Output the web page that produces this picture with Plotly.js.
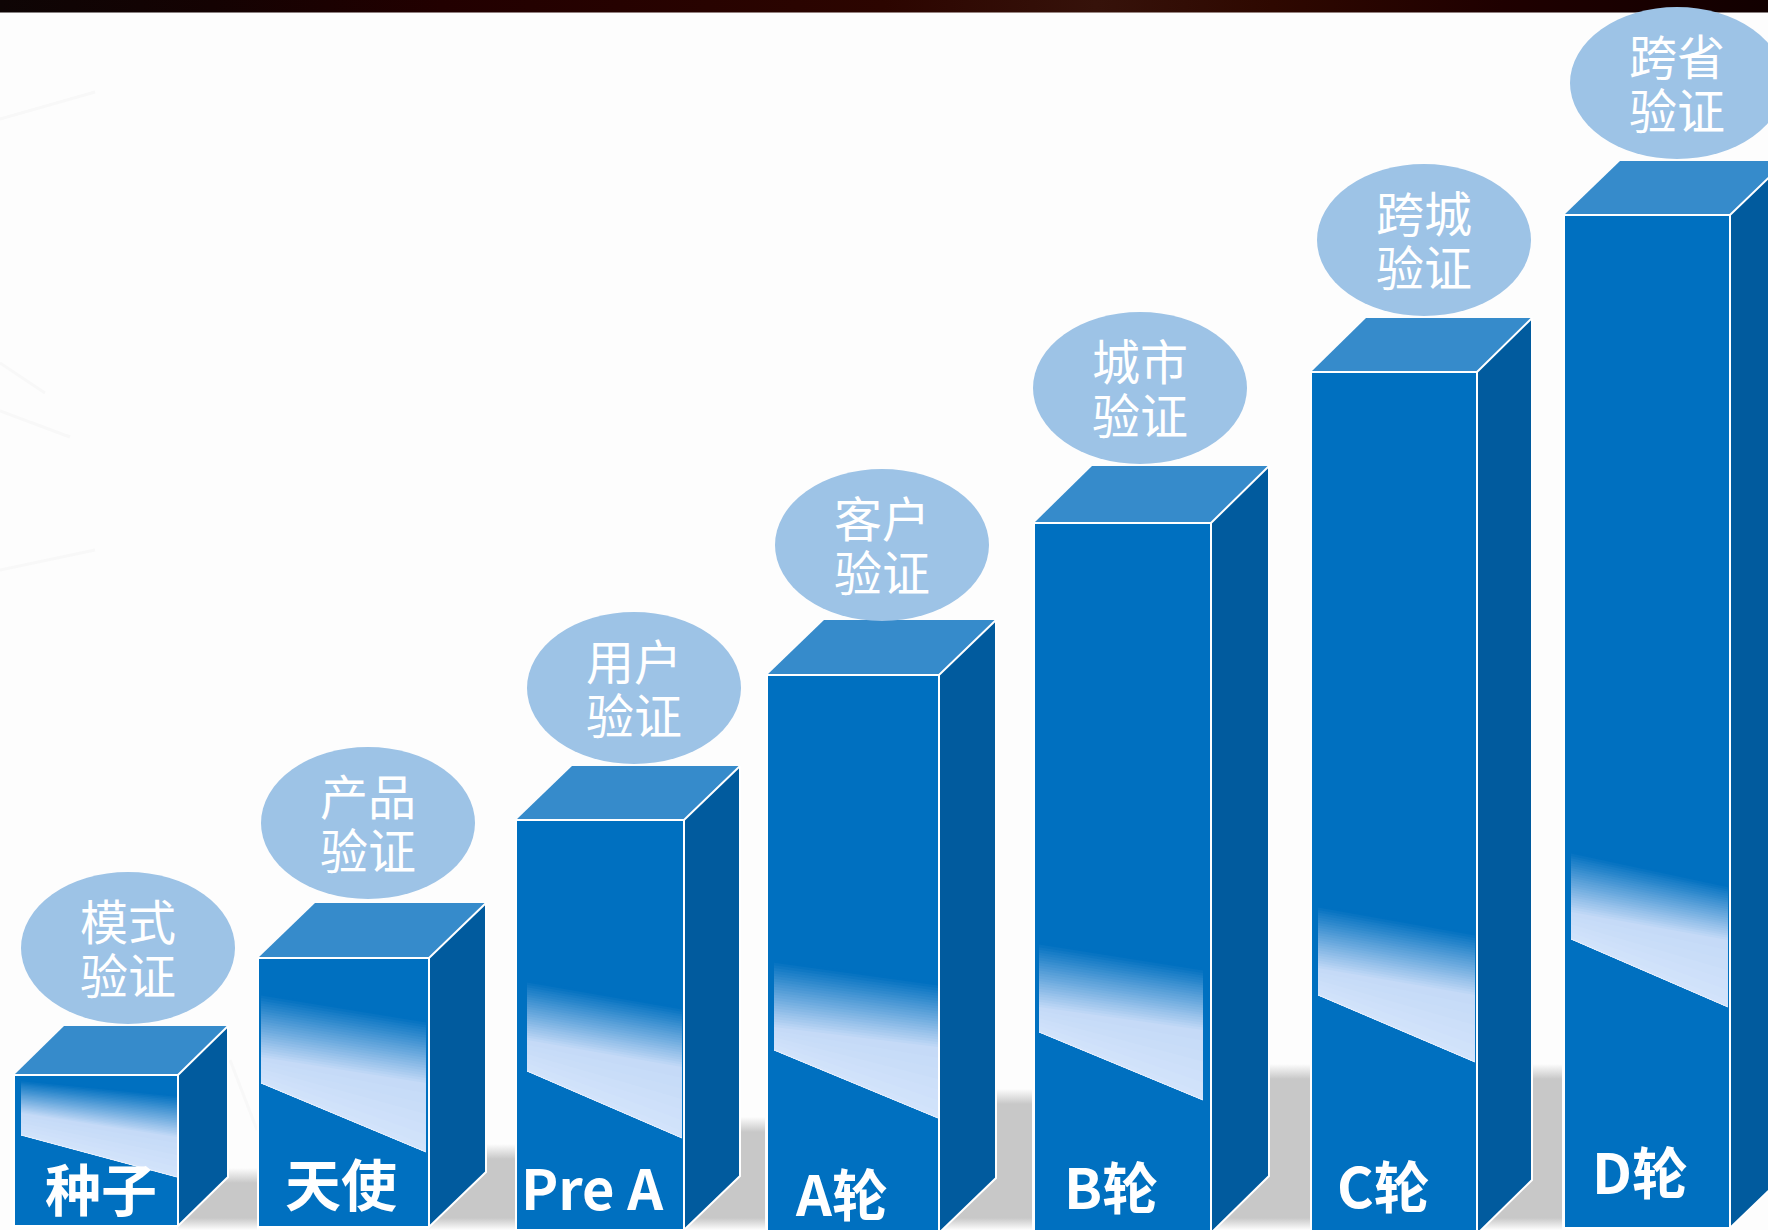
<!DOCTYPE html>
<html><head><meta charset="utf-8">
<script src="https://cdn.plot.ly/plotly-3.0.1.min.js"></script>
<style>html,body{margin:0;padding:0;background:#fdfdfd}#c{width:1768px;height:1230px}</style>
</head><body><div id="c"></div>
<script>
// ---- data (all vertical values are units above the bottom edge, the axis is 0..1230)
const stages      = ['种子','天使','Pre A','A轮','B轮','C轮','D轮'];
const validations = ['模式','产品','用户','客户','城市','跨城','跨省'];
const commonWord  = '验证';
const barLeft     = [14,258,516,767,1034,1311,1564];
const barRight    = [178,429,684,939,1211,1477,1730];
const barTop      = [155,272,410,555,707,858,1015];
const barBase     = [4,3,0,-3,-3,-4,2];
const depthX      = [50,57,56,57,58,55,56];
const depthY      = [49,55,54,55,57,54,54];
const ellipseX    = [128,368,634,882,1140,1424,1677];
const ellipseY    = [282,407,542,685,842,990,1147];
const stageTextX  = [101,341,592,841,1111,1383,1640];
const stageTextY  = [44,49,45,39,46,47,61];
// reflection patches: x edges and y at left/right of fade start, fade end, lower edge
const patchL      = [21,261,527,774,1039,1318,1571];
const patchR      = [177,426,682,938,1203,1475,1728];
const fadeStartL  = [150,237,250,270,288,325,379];
const fadeStartR  = [135,210,223,247,262,297,345];
const fadeEndL    = [117,173,190,203,223,262,318];
const fadeEndR    = [93,147,163,183,200,235,290];
const lowerL      = [95,147,159,180,198,235,291];
const lowerR      = [53,78,92,112,130,168,223];
// grey floor shadow between the boxes
const shadowX0    = [178,429,684,939,1211,1477];
const shadowX1    = [257,515,765,1032,1310,1562];
const shadowTop   = [62,86,113,141,166,166];
// top band colours along x
const bandStops   = [[0,'#0e0505'],[0.12,'#140202'],[0.25,'#220000'],[0.5,'#2c0500'],[0.62,'#36120a'],[0.72,'#2e0800'],[0.85,'#1f0000'],[1,'#120000']];
// faint background streaks, x0,y0,x1,y1
const streaks     = [[0,1111,95,1138],[0,819,70,793],[0,660,95,680],[0,867,45,837],[230,170,257,100]];

const C = {front:'#0070c0',side:'#015b9e',top:'#368bcb',ell:'#9dc3e6',light:'#c5daf7',lightEnd:'#d2e3fb',bg:'#fdfdfd',grey:'#c8c8c8'};
const hex = h => [1,3,5].map(i=>parseInt(h.substr(i,2),16));
const mix = (a,b,t)=>{const A=hex(a),B=hex(b);return 'rgb('+A.map((v,i)=>Math.round(v+(B[i]-v)*t)).join(',')+')';};

const traces = [];
// band
traces.push({type:'scatter',mode:'none',x:[0,1768,1768,0,0],y:[1230,1230,1217.5,1217.5,1230],fill:'toself',
  fillgradient:{type:'horizontal',colorscale:bandStops,start:0,stop:1768},hoverinfo:'skip',showlegend:false});
// shadows
shadowX0.forEach((x0,i)=>{
  const t=shadowTop[i],x1=shadowX1[i],span=t;
  traces.push({type:'scatter',mode:'none',x:[x0,x1,x1,x0,x0],y:[t,t,0,0,t],fill:'toself',
    fillgradient:{type:'vertical',start:0,stop:t,colorscale:[[0,C.bg],[Math.min(0.45,12/span),C.grey],[Math.max(0.55,1-15/span),C.grey],[1,C.bg]]},
    hoverinfo:'skip',showlegend:false});
});
// streaks
streaks.forEach(s=>traces.push({type:'scatter',mode:'lines',x:[s[0],s[2]],y:[s[1],s[3]],line:{color:'#f8f8f8',width:3},hoverinfo:'skip',showlegend:false}));
// front faces
traces.push({type:'bar',x:barLeft.map((l,i)=>(l+barRight[i])/2),width:barLeft.map((l,i)=>barRight[i]-l),
  y:barTop.map((t,i)=>t-barBase[i]),base:barBase,marker:{color:C.front,line:{width:0}},hoverinfo:'skip',showlegend:false});
// side and top faces
stages.forEach((s,i)=>{
  const L=barLeft[i],R=barRight[i],T=barTop[i],B=barBase[i],dx=depthX[i],dy=depthY[i];
  traces.push({type:'scatter',mode:'none',x:[R,R+dx,R+dx,R,R],y:[T,T+dy,B+dy,B,T],fill:'toself',fillcolor:C.side,hoverinfo:'skip',showlegend:false});
  traces.push({type:'scatter',mode:'none',x:[L,L+dx,R+dx,R,L],y:[T,T+dy,T+dy,T,T],fill:'toself',fillcolor:C.top,hoverinfo:'skip',showlegend:false});
});
// white edges
stages.forEach((s,i)=>{
  const L=barLeft[i],R=barRight[i],T=barTop[i],B=barBase[i],dx=depthX[i],dy=depthY[i];
  traces.push({type:'scatter',mode:'lines',line:{color:'#ffffff',width:2},hoverinfo:'skip',showlegend:false,
    x:[L,R,R+dx,R+dx,R,L,L,null,R,R],y:[T,T,T+dy,B+dy,B,B,T,null,T,B]});
});

const shapes = [];
// reflection patches: painted as overlapping strips so that the fade is slanted
stages.forEach((s,i)=>{
  const L=patchL[i],R=patchR[i];
  const poly=(yl,yr,col)=>shapes.push({type:'path',xref:'x',yref:'y',layer:'above',line:{width:0},fillcolor:col,
    path:`M${L},${yl}L${R},${yr}L${R},${lowerR[i]}L${L},${lowerL[i]}Z`});
  const N=26;
  for(let k=0;k<N;k++){
    const t=k/(N-1);
    poly(fadeStartL[i]+(fadeEndL[i]-fadeStartL[i])*t, fadeStartR[i]+(fadeEndR[i]-fadeStartR[i])*t, mix(C.front,C.light,t));
  }
  const M=6;
  for(let k=1;k<=M;k++){
    const t=k/M;
    poly(fadeEndL[i]+(lowerL[i]-fadeEndL[i])*t*0.9, fadeEndR[i]+(lowerR[i]-fadeEndR[i])*t*0.9, mix(C.light,C.lightEnd,t));
  }
  shapes.push({type:'line',xref:'x',yref:'y',layer:'above',x0:L,x1:R,y0:lowerL[i],y1:lowerR[i],line:{color:'#e8f1fd',width:1}});
});
// ellipses
ellipseX.forEach((x,i)=>shapes.push({type:'circle',xref:'x',yref:'y',layer:'above',line:{width:0},fillcolor:C.ell,
  x0:x-107,x1:x+107,y0:ellipseY[i]-76,y1:ellipseY[i]+76}));

const annotations=[];
const note=(x,y,text,size,bold)=>annotations.push({x,y,xref:'x',yref:'y',text:bold?'<b>'+text+'</b>':text,showarrow:false,
  xanchor:'center',yanchor:'middle',font:{family:'"Noto Sans CJK SC","Noto Sans",sans-serif',size,color:'#ffffff'}});
validations.forEach((t,i)=>{ note(ellipseX[i],ellipseY[i]+29,t,48,false); note(ellipseX[i],ellipseY[i]-25,commonWord,48,false); });
stages.forEach((t,i)=>note(stageTextX[i],stageTextY[i],t,56,true));

const hidden={visible:false,fixedrange:true,showgrid:false,zeroline:false};
Plotly.newPlot('c',traces,{width:1768,height:1230,margin:{l:0,r:0,t:0,b:0},paper_bgcolor:C.bg,plot_bgcolor:C.bg,showlegend:false,
  xaxis:{...hidden,range:[0,1768]},yaxis:{...hidden,range:[0,1230]},bargap:0,shapes,annotations,hovermode:false},{displayModeBar:false,staticPlot:true});
</script></body></html>
